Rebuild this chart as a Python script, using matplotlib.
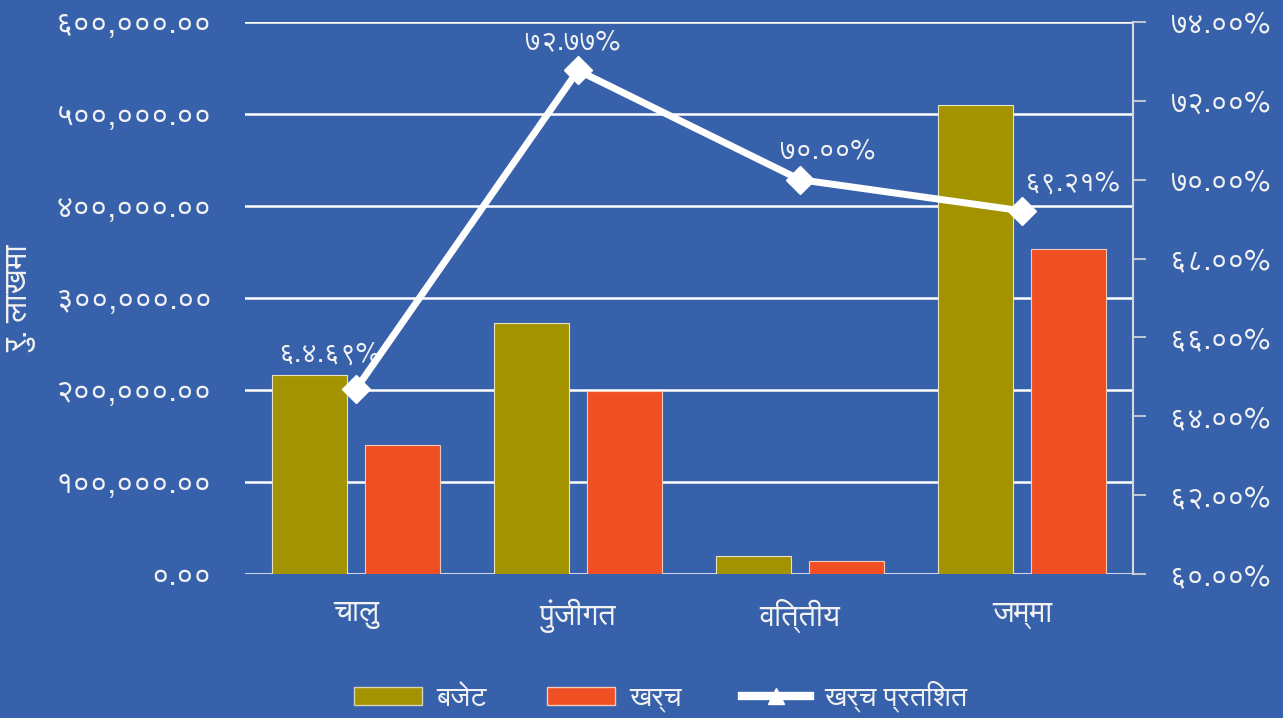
import numpy as np
import matplotlib
matplotlib.use("Agg")
import matplotlib.pyplot as plt
from matplotlib import font_manager
from matplotlib.ft2font import FT2Font
from matplotlib.patches import Patch
from matplotlib.lines import Line2D

# data (rupees in lakhs)
categories = ["चालु", "पुंजीगत", "वित्तीय", "जम्मा"]
budget = [216000, 273000, 19500, 510000]
expense = [139800, 198500, 13650, 353000]
expense_pct = [64.69, 72.77, 70.00, 69.21]
pct_labels = ["६.४.६९%", "७२.७७%", "७०.००%", "६९.२१%"]
legend_labels = ["बजेट", "खर्च", "खर्च प्रतिशत"]
y_label = "रु. लाखमा"

# where each percent label sits relative to its point (points)
label_offsets = [(-19, 25), (-4, 20), (20, 20), (36, 20)]

# look for installed fonts that have devanagari glyphs, skip monospace ones
cands = []
for f in font_manager.fontManager.ttflist:
    try:
        cmap = FT2Font(f.fname).get_charmap()
    except Exception:
        continue
    if 0x0915 in cmap and 0x0966 in cmap:
        cands.append(f)

def rank(f):
    n = f.name.lower()
    r = 0
    if "mono" in n or "code" in n or "courier" in n:
        r += 10
    if "sans" not in n:
        r += 2
    if f.style != "normal":
        r += 3
    return r

cands.sort(key=rank)
dev_font = cands[0].name if cands else None
fams = [dev_font, "DejaVu Sans"] if dev_font else ["DejaVu Sans"]
plt.rcParams["font.family"] = fams

DEV_DIGITS = str.maketrans("0123456789", "०१२३४५६७८९")

def dev(s):
    return s.translate(DEV_DIGITS)

bg = "#3761AB"
olive = "#A39300"
orange = "#F04E23"
txt = "#F2F2F2"

fig = plt.figure(figsize=(12.83, 7.18), dpi=100, facecolor=bg)
ax = fig.add_axes([0.191, 0.2006, 0.692, 0.7688])
ax.set_facecolor(bg)

x = np.arange(len(categories))
w = 0.34
ax.bar(x - 0.21, budget, w, color=olive, edgecolor="#E8E4C0", linewidth=0.8, zorder=3)
ax.bar(x + 0.21, expense, w, color=orange, edgecolor="#F5C9B8", linewidth=0.8, zorder=3)

ax.set_xlim(-0.5, len(categories) - 0.5)
ax.set_ylim(0, 600000)
ax.set_yticks(np.arange(0, 600001, 100000))
ax.set_yticklabels([dev(f"{v:,.2f}") for v in ax.get_yticks()], color=txt, fontsize=22)
ax.tick_params(axis="y", length=0, pad=24)
ax.set_xticks(x)
ax.set_xticklabels(categories, color=txt, fontsize=22)
ax.tick_params(axis="x", length=0, pad=18)
ax.grid(axis="y", color="white", linewidth=1.8, zorder=1)
for s in ax.spines.values():
    s.set_visible(False)
ax.set_ylabel(y_label, color=txt, fontsize=23)
ax.yaxis.set_label_coords(-0.235, 0.5)

ax2 = ax.twinx()
ax2.set_ylim(60, 74)
ax2.set_yticks(np.arange(60, 74.1, 2))
ax2.set_yticklabels([dev(f"{v:.2f}%") for v in ax2.get_yticks()], color=txt, fontsize=21)
ax2.tick_params(axis="y", length=9, width=1.2, color="#D8D8D8", pad=18)
for k, s in ax2.spines.items():
    s.set_visible(k == "right")
ax2.spines["right"].set_color("#D8D8D8")
ax2.spines["right"].set_linewidth(1.5)

ax2.plot(x, expense_pct, color="white", linewidth=5, marker="D", markersize=14,
         zorder=5)
for xi, yi, lab, off in zip(x, expense_pct, pct_labels, label_offsets):
    ax2.annotate(lab, (xi, yi), xytext=off, textcoords="offset points",
                 ha="center", va="center", color=txt, fontsize=20)

handles = [Patch(facecolor=olive, edgecolor="#D8D4B0"),
           Patch(facecolor=orange, edgecolor="#F5C9B8"),
           Line2D([], [], color="white", linewidth=6, marker="^", markersize=11)]
fig.legend(handles, legend_labels, loc="lower center", bbox_to_anchor=(0.515, -0.028),
           ncol=3, frameon=False, fontsize=20.5, labelcolor=txt, handlelength=2.4,
           handleheight=0.6, handletextpad=0.5, columnspacing=2.1)

fig.savefig("out.png", dpi=100, facecolor=bg)
